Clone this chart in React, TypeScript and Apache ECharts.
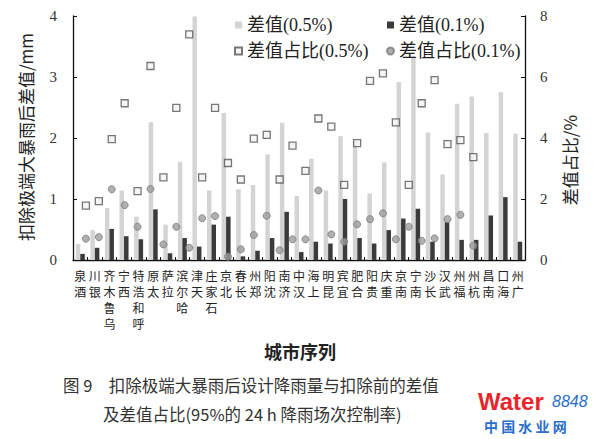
import React, { useEffect, useRef } from "react";
import * as echarts from "echarts";

const cities = ["酒泉","银川","乌鲁木齐","西宁","呼和浩特","太原","拉萨","哈尔滨","天津","石家庄","北京","长春","郑州","沈阳","济南","汉中","上海","昆明","宜宾","合肥","贵阳","重庆","南京","南宁","长沙","武汉","福州","杭州","南昌","海口","广州"];
const diff05 = [0.26,0.49,0.85,1.14,0.71,2.26,0.58,1.61,3.99,1.14,2.41,1.16,1.23,1.73,2.25,1.05,1.66,1.14,2.03,1.95,1.09,1.6,2.92,3.33,2.09,1.4,2.56,2.68,2.08,2.75,2.07];
const diff01 = [0.1,0.2,0.51,0.39,0.34,0.83,0.11,0.36,0.22,0.58,0.71,0.06,0.15,0.36,0.79,0.13,0.3,0.27,1.0,0.36,0.27,0.49,0.68,0.84,0.3,0.62,0.33,0.33,0.73,1.03,0.3];
const ratio05 = [1.78,1.93,3.96,5.14,2.26,6.36,2.71,4.99,7.4,2.71,4.99,3.18,2.64,3.98,4.1,2.64,3.75,2.92,4.64,4.37,2.46,3.83,5.87,6.12,4.51,2.46,5.14,5.9,3.8,3.93,3.37];
const ratio01 = [0.7,0.75,2.32,1.8,1.09,2.33,0.51,1.09,0.4,1.37,1.44,0.11,0.35,0.82,1.45,0.32,0.68,0.68,2.28,0.84,0.6,1.17,1.34,1.53,0.68,1.09,0.63,0.71,1.34,1.48,0.47];
const leftTicks = [0, 1, 2, 3, 4];
const rightTicks = [0, 2, 4, 6, 8];

const SERIF = "'Liberation Serif', 'Noto Sans CJK SC', serif";
const CJK = "'Noto Sans CJK SC', sans-serif";

export default function App() {
  const ref = useRef<HTMLDivElement>(null);
  useEffect(() => {
    if (!ref.current) return;
    const chart = echarts.init(ref.current, null, { renderer: "svg" });
    const axisLine = { show: true, lineStyle: { color: "#111", width: 1.3 } };
    chart.setOption({
      animation: false,
      backgroundColor: "#fff",
      grid: { left: 73, right: 75, top: 16, bottom: 179, containLabel: false },
      legend: [
        {
          orient: "vertical", left: 229, top: 11, itemWidth: 7, itemHeight: 7, itemGap: 8,
          textStyle: { fontSize: 18, fontFamily: SERIF, color: "#222" },
          data: [{ name: "差值(0.5%)", icon: "rect" }, { name: "差值占比(0.5%)", icon: "rect" }],
        },
        {
          orient: "vertical", left: 381, top: 11, itemWidth: 7, itemHeight: 7, itemGap: 8,
          textStyle: { fontSize: 18, fontFamily: SERIF, color: "#222" },
          data: [{ name: "差值(0.1%)", icon: "rect" }, { name: "差值占比(0.1%)", icon: "circle" }],
        },
      ],
      xAxis: [
        {
          type: "category", data: cities, gridIndex: 0,
          axisLine, axisTick: { show: true, inside: true, length: 3, lineStyle: { color: "#111" } },
          axisLabel: {
            interval: 0, margin: 7, fontSize: 12, lineHeight: 16, fontFamily: CJK, color: "#222",
            verticalAlign: "top",
            formatter: (v: string) => v.split("").reverse().join("\n"),
          },
        },
        { type: "value", min: 0, max: 35, show: false, gridIndex: 0 },
      ],
      yAxis: [
        {
          type: "value", min: 0, max: 4, interval: 1, axisLine,
          axisTick: { show: true, inside: true, length: 4, lineStyle: { color: "#111" } },
          splitLine: { show: false },
          axisLabel: { fontSize: 15, fontFamily: SERIF, color: "#333", margin: 16, formatter: (v: number) => (leftTicks.includes(v) ? String(v) : "") },
        },
        {
          type: "value", min: 0, max: 8, interval: 2, position: "right", axisLine,
          axisTick: { show: true, inside: true, length: 4, lineStyle: { color: "#111" } },
          splitLine: { show: false },
          axisLabel: { fontSize: 15, fontFamily: SERIF, color: "#333", margin: 15, formatter: (v: number) => (rightTicks.includes(v) ? String(v) : "") },
        },
      ],
      series: [
        { name: "差值(0.5%)", type: "bar", data: diff05, barWidth: 4.5, barGap: "0%", itemStyle: { color: "#d4d4d4" } },
        { name: "差值(0.1%)", type: "bar", data: diff01, barWidth: 4.5, barGap: "0%", itemStyle: { color: "#3b3b3b" } },
        {
          name: "差值占比(0.5%)", type: "scatter", xAxisIndex: 1, yAxisIndex: 1, symbol: "rect", symbolSize: 7,
          data: ratio05.map((v, i) => [i + 1, v]),
          itemStyle: { color: "#f2f2f2", borderColor: "#555", borderWidth: 1.3 },
          z: 5,
        },
        {
          name: "差值占比(0.1%)", type: "scatter", xAxisIndex: 1, yAxisIndex: 1, symbol: "circle", symbolSize: 7,
          data: ratio01.map((v, i) => [i + 1, v]),
          itemStyle: { color: "#9c9c9c", borderColor: "#7a7a7a", borderWidth: 1 },
          z: 5,
        },
      ],
      graphic: [
        { type: "text", x: 25, y: 137, rotation: Math.PI / 2, style: { text: "扣除极端大暴雨后差值/mm", fontSize: 17, fontFamily: CJK, fill: "#222", textAlign: "center", textVerticalAlign: "middle" } },
        { type: "text", x: 569, y: 160, rotation: Math.PI / 2, style: { text: "差值占比/%", fontSize: 17, fontFamily: CJK, fill: "#222", textAlign: "center", textVerticalAlign: "middle" } },
        { type: "text", x: 300, y: 351, style: { text: "城市序列", fontSize: 18, fontWeight: "bold", fontFamily: CJK, fill: "#222", textAlign: "center", textVerticalAlign: "middle" } },
        { type: "text", x: 63, y: 385, style: { text: "图 9　扣除极端大暴雨后设计降雨量与扣除前的差值", fontSize: 16.5, fontFamily: CJK, fill: "#333", textAlign: "left", textVerticalAlign: "middle" } },
        { type: "text", x: 103, y: 414, style: { text: "及差值占比(95%的 24 h 降雨场次控制率)", fontSize: 16.5, fontFamily: CJK, fill: "#333", textAlign: "left", textVerticalAlign: "middle" } },
        { type: "text", x: 478, y: 401, style: { text: "Water", fontSize: 24, fontWeight: "bold", fontFamily: "'Liberation Sans', sans-serif", fill: "#e8262b", textAlign: "left", textVerticalAlign: "middle" } },
        { type: "text", x: 552, y: 401, style: { text: "8848", fontSize: 16, fontStyle: "italic", fontFamily: "'Liberation Sans', sans-serif", fill: "#2a6fc9", textAlign: "left", textVerticalAlign: "middle" } },
        { type: "text", x: 484, y: 426, style: { text: "中 国 水 业 网", fontSize: 14, fontWeight: "bold", fontFamily: CJK, fill: "#2a6fc9", textAlign: "left", textVerticalAlign: "middle" } },
      ],
    });
    return () => chart.dispose();
  }, []);
  return <div ref={ref} style={{ width: 600, height: 439, position: "absolute", left: 0, top: 0 }} />;
}
